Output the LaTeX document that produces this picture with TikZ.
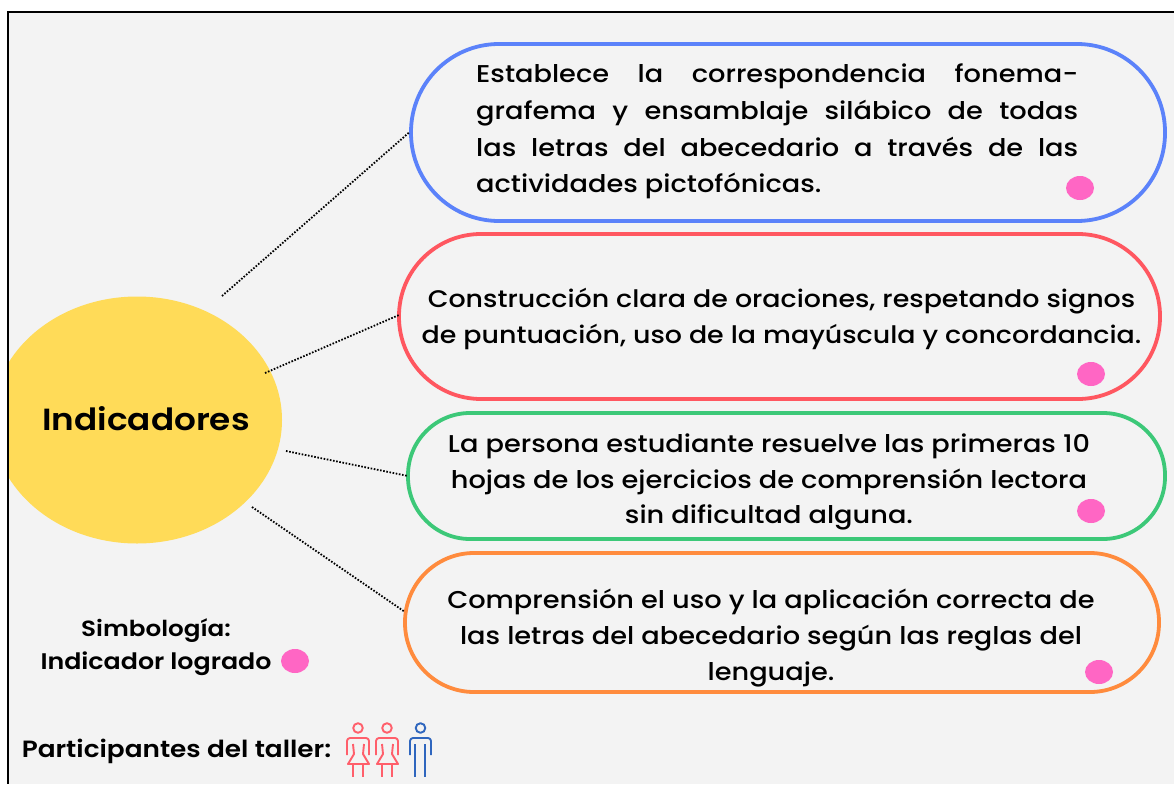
\documentclass[tikz,border=0pt]{standalone}
\usepackage{fontspec}
\setmainfont{Poppins}[UprightFont=* Medium,BoldFont=* SemiBold,FakeStretch=1.12]
\usetikzlibrary{shapes.geometric}
\definecolor{bgc}{HTML}{F3F3F3}
\definecolor{yel}{HTML}{FFDB58}
\definecolor{blu}{HTML}{5B82FA}
\definecolor{redc}{HTML}{FF5760}
\definecolor{grn}{HTML}{3CC878}
\definecolor{org}{HTML}{FF8B3D}
\definecolor{pnk}{HTML}{FF66C4}
\definecolor{figr}{HTML}{FF5F6B}
\definecolor{figb}{HTML}{2F66BE}
\tikzset{
 capsule/.style={draw=#1,line width=3.8pt,inner sep=0pt},
 lbl/.style={font=\fontsize{24.3}{35.6}\selectfont,align=center,inner sep=0pt,text=black},
 dot/.style={fill=pnk,draw=none,ellipse,minimum width=28pt,minimum height=24pt,inner sep=0pt},
 conn/.style={dash pattern=on 1.6pt off 1.6pt,line width=1.8pt,black},
 small/.style={font=\fontsize{22}{33}\selectfont\bfseries,align=center,inner sep=0pt,text=black},
 fr/.style={draw=figr,line width=1.9pt,line join=round},
 fb/.style={draw=figb,line width=1.9pt,line join=round},
}
\newcommand{\woman}[1]{%
 \begin{scope}[shift={(#1,0)}]
 \draw[fr] (0,728) circle[radius=4.8];
 \draw[fr,rounded corners=3pt] (-11,755) -- (-11,738) -- (11,738) -- (11,755);
 \draw[fr] (-5,744) -- (-4,754) -- (-10,764) -- (11,764) -- (5,754) -- (6,744);
 \draw[fr] (-5,764) -- (-5,777) (5,764) -- (5,777);
 \end{scope}}
\begin{document}
\begin{tikzpicture}[x=1pt,y=-1pt]
\useasboundingbox (0,0) rectangle (1174,784);
\fill[white] (0,0) rectangle (1174,784);
\fill[bgc] (8,12) rectangle (1174,784);
\begin{scope}
\clip (8,12) rectangle (1174,784);
\node[ellipse,fill=yel,minimum width=290pt,minimum height=247pt,inner sep=0pt] (hub) at (137,420) {};
\end{scope}
\draw[black,line width=1.6pt] (1174,12) -- (8,12) -- (8,784);
\node[font=\fontsize{30.6}{32}\selectfont\bfseries,inner sep=0pt] (hubt) at (146,419) {Indicadores};

\node[capsule=blu,rounded corners=88pt,minimum width=754pt,minimum height=177pt] (b1) at (788,132.5) {};
\node[capsule=redc,rounded corners=82pt,minimum width=761pt,minimum height=165pt] (b2) at (779.5,316.5) {};
\node[capsule=grn,rounded corners=62pt,minimum width=757pt,minimum height=126pt] (b3) at (786.5,476) {};
\node[capsule=org,rounded corners=69pt,minimum width=754pt,minimum height=139pt] (b4) at (782,622.5) {};

\node[lbl,anchor=north west] (t1) at (476,64) {%
 \begin{minipage}{602pt}\fontsize{24.3}{36.6}\selectfont
 \hbox to 602pt{Establece\hfill la\hfill correspondencia\hfill fonema-}
 \hbox to 602pt{grafema\hfill y\hfill ensamblaje\hfill silábico\hfill de\hfill todas}
 \hbox to 602pt{las\hfill letras\hfill del\hfill abecedario\hfill a\hfill través\hfill de\hfill las}
 \hbox to 602pt{actividades pictofónicas.\hfill}
 \end{minipage}};
\node[lbl,font=\fontsize{24}{35.6}\selectfont] (t2) at (781.5,319) {Construcción clara de oraciones, respetando signos\\de puntuación, uso de la mayúscula y concordancia.};
\node[lbl] (t3) at (769,482) {La persona estudiante resuelve las primeras 10\\hojas de los ejercicios de comprensión lectora\\sin dificultad alguna.};
\node[lbl] (t4) at (771,638) {Comprensión el uso y la aplicación correcta de\\las letras del abecedario según las reglas del\\lenguaje.};

\node[dot] (d1) at (1080,188) {};
\node[dot] (d2) at (1091,374) {};
\node[dot] (d3) at (1091,511) {};
\node[dot] (d4) at (1099,672) {};
\node[dot] (d5) at (295,661) {};

\coordinate (c1s) at (222,296);
\coordinate (c2s) at (265,373);
\coordinate (c3s) at (286,451);
\coordinate (c4s) at (252,507);
\coordinate (c1e) at (b1.west);
\coordinate (c2e) at (399,315);
\coordinate (c3e) at (408,476);
\coordinate (c4e) at (405,612);
\draw[conn] (c1s) -- (c1e);
\draw[conn] (c2s) -- (c2e);
\draw[conn] (c3s) -- (c3e);
\draw[conn] (c4s) -- (c4e);

\node[small] (s1) at (156,631) {Simbología:};
\node[small,font=\fontsize{22.6}{33}\selectfont\bfseries] (s2) at (156,664) {Indicador logrado};
\node[small,font=\fontsize{23.5}{33}\selectfont\bfseries] (s3) at (176.5,751) {Participantes del taller:};
\woman{358}\woman{387}
\draw[fb] (420.5,728) circle[radius=4.8];
\draw[fb,rounded corners=3pt] (410,755) -- (410,738) -- (431,738) -- (431,755);
\draw[fb] (415,744) -- (415,777);
\draw[fb] (425,744) -- (425,777);
\end{tikzpicture}
\end{document}
